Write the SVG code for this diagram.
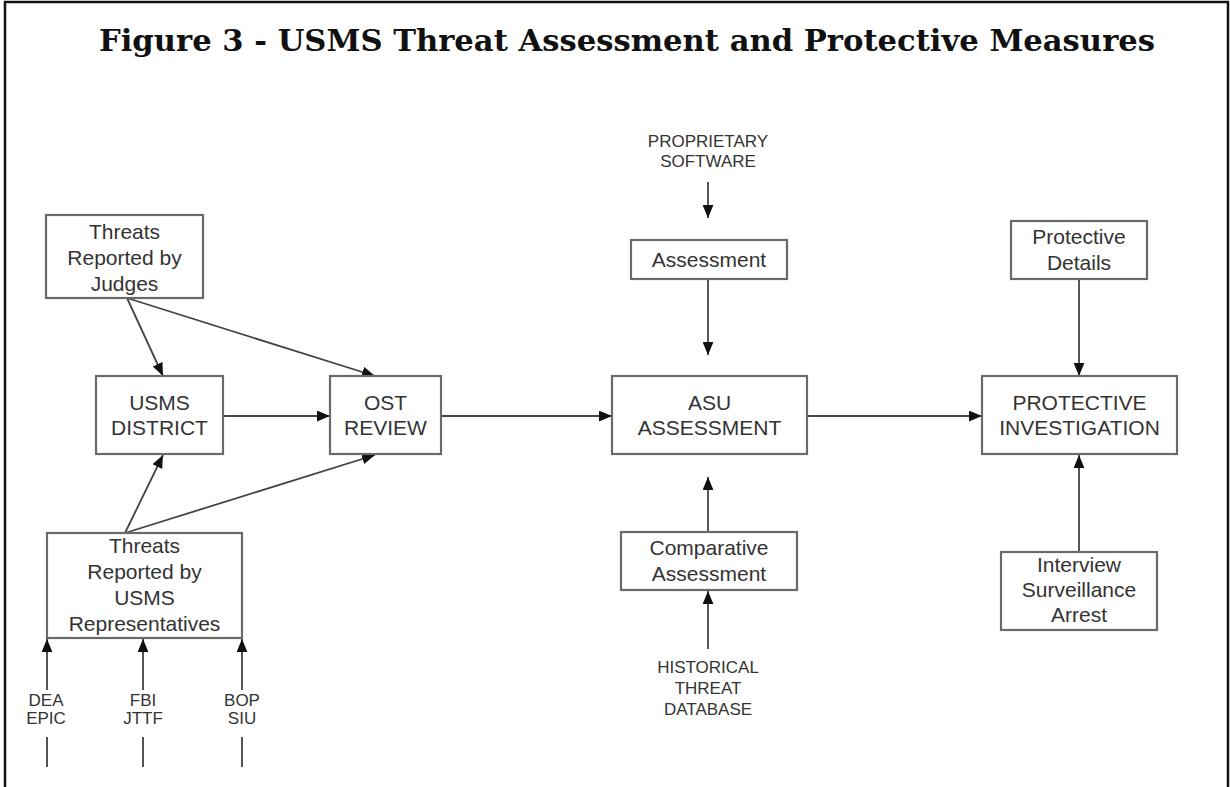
<svg xmlns="http://www.w3.org/2000/svg" width="1230" height="787" viewBox="0 0 1230 787">
<defs>
<marker id="ah" viewBox="0 0 12 10" refX="12" refY="5" markerWidth="13" markerHeight="11" markerUnits="userSpaceOnUse" orient="auto">
<path d="M0,0 L12,5 L0,10 z" fill="#111"/>
</marker>
<style>
.box{fill:#fff;stroke:#6a6a6a;stroke-width:2.2}
.t{font-family:"Liberation Sans",Arial,sans-serif;font-size:21px;fill:#333;text-anchor:middle}
.s{font-family:"Liberation Sans",Arial,sans-serif;font-size:17px;fill:#333;text-anchor:middle}
.c{fill:none;stroke:#444;stroke-width:1.8}
.a{marker-end:url(#ah)}
.title{font-family:"DejaVu Serif","Liberation Serif",serif;font-weight:bold;font-size:30px;fill:#111;text-anchor:middle}
</style>
</defs>
<rect width="1230" height="787" fill="#fff"/>
<path d="M5,787 V2 H1228 V787" fill="none" stroke="#111" stroke-width="2.5"/>
<text class="title" x="627" y="51" textLength="1056" lengthAdjust="spacingAndGlyphs">Figure 3 - USMS Threat Assessment and Protective Measures</text>

<g id="connectors">
<line class="c a" x1="127" y1="298" x2="163" y2="376"/>
<line class="c a" x1="127" y1="298" x2="375" y2="376"/>
<line class="c a" x1="125" y1="533" x2="163" y2="455"/>
<line class="c a" x1="125" y1="533" x2="375" y2="455"/>
<line class="c a" x1="223" y1="416" x2="330" y2="416"/>
<line class="c a" x1="441" y1="416" x2="612" y2="416"/>
<line class="c a" x1="807" y1="416" x2="982" y2="416"/>
<line class="c a" x1="708" y1="182" x2="708" y2="218"/>
<line class="c a" x1="708" y1="279" x2="708" y2="355"/>
<line class="c a" x1="708" y1="532" x2="708" y2="477"/>
<line class="c a" x1="708" y1="649" x2="708" y2="591"/>
<line class="c a" x1="1079" y1="279" x2="1079" y2="376"/>
<line class="c a" x1="1079" y1="552" x2="1079" y2="455"/>
<line class="c a" x1="47" y1="690" x2="47" y2="639"/>
<line class="c a" x1="143" y1="690" x2="143" y2="639"/>
<line class="c a" x1="242" y1="690" x2="242" y2="639"/>
<line class="c" x1="47" y1="737" x2="47" y2="767" stroke="#666"/>
<line class="c" x1="143" y1="737" x2="143" y2="767" stroke="#666"/>
<line class="c" x1="242" y1="737" x2="242" y2="767" stroke="#666"/>
</g>

<g id="judges">
<rect class="box" x="46" y="215" width="157" height="83"/>
<text class="t" x="124.5" y="239">Threats</text>
<text class="t" x="124.5" y="265">Reported by</text>
<text class="t" x="124.5" y="291">Judges</text>
</g>
<g id="usms-district">
<rect class="box" x="96" y="376" width="127" height="78"/>
<text class="t" x="159.5" y="410">USMS</text>
<text class="t" x="159.5" y="435">DISTRICT</text>
</g>
<g id="ost-review">
<rect class="box" x="330" y="376" width="111" height="78"/>
<text class="t" x="385.5" y="410">OST</text>
<text class="t" x="385.5" y="435">REVIEW</text>
</g>
<g id="reps">
<rect class="box" x="47" y="533" width="195" height="105"/>
<text class="t" x="144.5" y="553">Threats</text>
<text class="t" x="144.5" y="579">Reported by</text>
<text class="t" x="144.5" y="605">USMS</text>
<text class="t" x="144.5" y="631">Representatives</text>
</g>
<g id="dea"><text class="s" x="46" y="706">DEA</text><text class="s" x="46" y="724">EPIC</text></g>
<g id="fbi"><text class="s" x="143" y="706">FBI</text><text class="s" x="143" y="724">JTTF</text></g>
<g id="bop"><text class="s" x="242" y="706">BOP</text><text class="s" x="242" y="724">SIU</text></g>

<g id="proprietary">
<text class="s" x="708" y="147">PROPRIETARY</text>
<text class="s" x="708" y="167">SOFTWARE</text>
</g>
<g id="assessment">
<rect class="box" x="631" y="240" width="156" height="39"/>
<text class="t" x="709" y="267">Assessment</text>
</g>
<g id="asu">
<rect class="box" x="612" y="376" width="195" height="78"/>
<text class="t" x="709.5" y="410">ASU</text>
<text class="t" x="709.5" y="435">ASSESSMENT</text>
</g>
<g id="comparative">
<rect class="box" x="621" y="532" width="176" height="58"/>
<text class="t" x="709" y="555">Comparative</text>
<text class="t" x="709" y="581">Assessment</text>
</g>
<g id="historical">
<text class="s" x="708" y="673">HISTORICAL</text>
<text class="s" x="708" y="694">THREAT</text>
<text class="s" x="708" y="715">DATABASE</text>
</g>

<g id="protective-details">
<rect class="box" x="1011" y="221" width="136" height="58"/>
<text class="t" x="1079" y="244">Protective</text>
<text class="t" x="1079" y="270">Details</text>
</g>
<g id="protective-investigation">
<rect class="box" x="982" y="376" width="195" height="78"/>
<text class="t" x="1079.5" y="410">PROTECTIVE</text>
<text class="t" x="1079.5" y="435">INVESTIGATION</text>
</g>
<g id="interview">
<rect class="box" x="1001" y="552" width="156" height="78"/>
<text class="t" x="1079" y="572">Interview</text>
<text class="t" x="1079" y="597">Surveillance</text>
<text class="t" x="1079" y="622">Arrest</text>
</g>
</svg>
